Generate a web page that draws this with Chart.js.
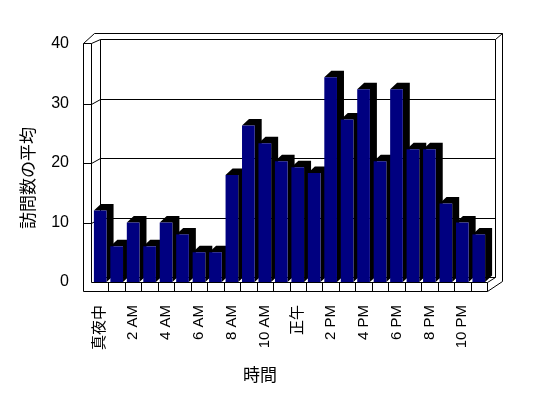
<!DOCTYPE html>
<html>
<head>
<meta charset="utf-8">
<script src="https://cdn.jsdelivr.net/npm/chart.js@4/dist/chart.umd.min.js"></script>
<style>
  html, body { margin: 0; padding: 0; background: #fff; }
  canvas { display: block; }
</style>
</head>
<body>
<canvas id="canvas" width="548" height="398"></canvas>
<script>
const hours = ['真夜中', '1 AM', '2 AM', '3 AM', '4 AM', '5 AM', '6 AM', '7 AM', '8 AM', '9 AM', '10 AM', '11 AM',
	'正午', '1 PM', '2 PM', '3 PM', '4 PM', '5 PM', '6 PM', '7 PM', '8 PM', '9 PM', '10 PM', '11 PM'];
const visits = [12, 6, 10, 6, 10, 8, 5, 5, 18, 26.3, 23.3, 20.3, 19.3, 18.3, 34.4, 27.3, 32.4, 20.3, 32.4, 22.3, 22.3, 13.2, 10, 8];
const yTicks = [0, 10, 20, 30, 40];
const xTitle = '時間';
const yTitle = '訪問数の平均';

const FONT = "'Liberation Sans', 'Noto Sans CJK JP', sans-serif";
const WALL_DX = 8, WALL_DY = -5;
const BAR_DX = 7, BAR_DY = -6.5;

function line(ctx, pts) {
	ctx.beginPath();
	ctx.moveTo(pts[0][0], pts[0][1]);
	for (let i = 1; i < pts.length; i++) ctx.lineTo(pts[i][0], pts[i][1]);
	ctx.stroke();
}

const frame3d = {
	id: 'frame3d',
	beforeDatasetsDraw(chart) {
		const ctx = chart.ctx;
		const xs = chart.scales.x, ys = chart.scales.y;
		const L = Math.round(xs.left) + 0.5, R = Math.round(xs.right) + 0.5;
		const B = Math.round(ys.getPixelForValue(0)) + 0.5;
		const T = Math.round(ys.getPixelForValue(40)) + 0.5;
		ctx.save();
		ctx.strokeStyle = '#000';
		ctx.lineWidth = 1;

		// back wall grid lines and left tick connectors
		yTicks.forEach(v => {
			const yf = Math.round(ys.getPixelForValue(v)) + 0.5;
			const yb = yf + WALL_DY;
			line(ctx, [[L + WALL_DX, yb], [R + WALL_DX, yb]]);
			if (v > 0 && v < 40) line(ctx, [[L - 9, yf], [L - 1, yf], [L + WALL_DX, yb]]);
		});
		// back wall edges
		line(ctx, [[L + WALL_DX, T + WALL_DY], [L + WALL_DX, B + WALL_DY]]);
		line(ctx, [[R + WALL_DX, T + WALL_DY], [R + WALL_DX, B + WALL_DY], [R, B]]);
		// outer wall thickness
		line(ctx, [[L - 9, B + 9], [L - 9, T - 1], [L + 2, T - 11], [R + 15, T - 11], [R + 15, B - 1], [R, B + 9]]);
		line(ctx, [[L - 9, T - 1], [L - 1, T - 1], [L + WALL_DX, T + WALL_DY]]);
		line(ctx, [[R + 15, T - 11], [R + WALL_DX, T + WALL_DY]]);
		line(ctx, [[L - 1, T - 1], [L - 1, B]]);
		// floor front
		line(ctx, [[L - 1, B], [R, B], [R, B + 9], [L - 9, B + 9]]);
		for (let i = 1; i < hours.length; i++) {
			const bx = Math.round((xs.getPixelForValue(i - 1) + xs.getPixelForValue(i)) / 2) + 0.5;
			line(ctx, [[bx, B], [bx, B + 9]]);
		}

		// bar extrusions (top and right side)
		ctx.fillStyle = '#000';
		chart.getDatasetMeta(0).data.forEach(bar => {
			const x0 = bar.x - bar.width / 2, x1 = bar.x + bar.width / 2;
			const top = bar.y, base = bar.base;
			ctx.beginPath();
			ctx.moveTo(x0, top);
			ctx.lineTo(x0 + BAR_DX, top + BAR_DY);
			ctx.lineTo(x1 + BAR_DX, top + BAR_DY);
			ctx.lineTo(x1 + BAR_DX, base + BAR_DY);
			ctx.lineTo(x1, base);
			ctx.lineTo(x1, top);
			ctx.closePath();
			ctx.fill();
		});
		ctx.restore();
	},
	afterDraw(chart) {
		const ctx = chart.ctx;
		ctx.save();
		ctx.fillStyle = '#000';
		ctx.font = '17px ' + FONT;
		ctx.textAlign = 'center';
		ctx.textBaseline = 'middle';
		ctx.fillText(xTitle, 260, 376);
		ctx.translate(29, 178);
		ctx.rotate(-Math.PI / 2);
		ctx.fillText(yTitle, 0, 0);
		ctx.restore();
	}
};

window.onload = function() {
	const ctx = document.getElementById('canvas').getContext('2d');
	window.myBar = new Chart(ctx, {
		type: 'bar',
		data: {
			labels: hours,
			datasets: [{
				label: yTitle,
				data: visits,
				backgroundColor: '#000080',
				borderWidth: 0,
				barPercentage: 0.77,
				categoryPercentage: 1
			}]
		},
		options: {
			responsive: false,
			animation: false,
			devicePixelRatio: 1,
			layout: { padding: { top: 44, right: 61, bottom: 0, left: 0 } },
			plugins: { legend: { display: false }, tooltip: { enabled: false } },
			scales: {
				x: {
					grid: { display: false, drawTicks: false },
					border: { display: false },
					ticks: {
						autoSkip: false,
						minRotation: 90,
						maxRotation: 90,
						padding: 23,
						color: '#000',
						font: { size: 15, family: FONT },
						callback: (v, i) => (i % 2 ? '' : hours[i])
					},
					afterFit: s => { s.height = 116; }
				},
				y: {
					min: 0,
					max: 40,
					grid: { display: false, drawTicks: false },
					border: { display: false },
					ticks: {
						stepSize: 10,
						padding: 23,
						color: '#000',
						font: { size: 16, family: FONT }
					},
					afterFit: s => { s.width = 92; }
				}
			}
		},
		plugins: [frame3d]
	});
};
</script>
</body>
</html>
